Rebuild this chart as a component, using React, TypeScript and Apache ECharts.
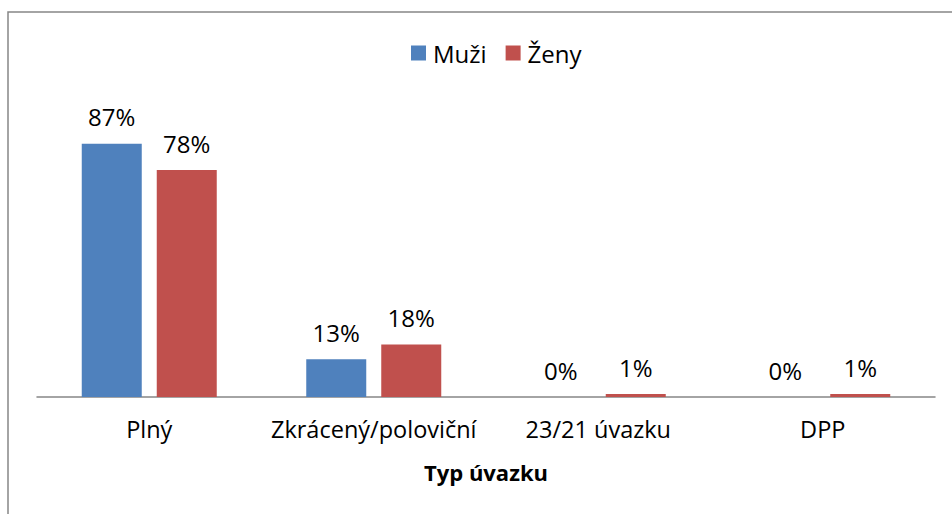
import React, { useEffect, useRef } from "react";
import * as echarts from "echarts";

const categories = ["Plný", "Zkrácený/poloviční", "23/21 úvazku", "DPP"];
const muzi = [87, 13, 0, 0];
const zeny = [78, 18, 1, 1];
const seriesNames = ["Muži", "Ženy"];
const axisTitle = "Typ úvazku";

const FONT = "'Open Sans', 'Noto Sans', sans-serif";

export default function App() {
  const ref = useRef<HTMLDivElement>(null);
  useEffect(() => {
    if (!ref.current) return;
    const chart = echarts.init(ref.current, undefined, { renderer: "svg" });
    const label = {
      show: true,
      position: "top",
      distance: 15,
      formatter: "{c}%",
      color: "#000",
      fontSize: 24,
      fontFamily: FONT,
    };
    chart.setOption({
      animation: false,
      backgroundColor: "#fff",
      textStyle: { fontFamily: FONT },
      graphic: [
        {
          type: "rect",
          shape: { x: 8, y: 12, width: 980, height: 540 },
          style: { fill: "none", stroke: "#868686", lineWidth: 1.5 },
          silent: true,
          z: -1,
        },
      ],
      legend: {
        left: 406,
        top: 36,
        itemWidth: 15,
        itemHeight: 15,
        itemGap: 19,
        icon: "rect",
        textStyle: { fontSize: 24, color: "#000", fontFamily: FONT, padding: [0, 0, 0, 2] },
        data: seriesNames,
      },
      grid: { left: 37, right: 17, top: 106, bottom: 117, containLabel: false },
      xAxis: {
        type: "category",
        data: categories,
        axisLine: { lineStyle: { color: "#868686", width: 1.5 } },
        axisTick: { show: false },
        axisLabel: { color: "#000", fontSize: 23.5, fontFamily: FONT, margin: 20, interval: 0 },
        name: axisTitle,
        nameLocation: "middle",
        nameGap: 64,
        nameTextStyle: { color: "#000", fontSize: 22, fontWeight: "bold", fontFamily: FONT },
      },
      yAxis: {
        type: "value",
        min: 0,
        max: 100,
        show: false,
        splitLine: { show: false },
      },
      series: [
        {
          name: seriesNames[0],
          type: "bar",
          data: muzi,
          barWidth: 60,
          barGap: "25%",
          itemStyle: { color: "#4F81BD" },
          label,
        },
        {
          name: seriesNames[1],
          type: "bar",
          data: zeny,
          barWidth: 60,
          barGap: "25%",
          itemStyle: { color: "#C0504D" },
          label,
        },
      ],
    });
    return () => chart.dispose();
  }, []);
  return (
    <div
      ref={ref}
      style={{ position: "absolute", left: 0, top: 0, width: 952, height: 514 }}
    />
  );
}
